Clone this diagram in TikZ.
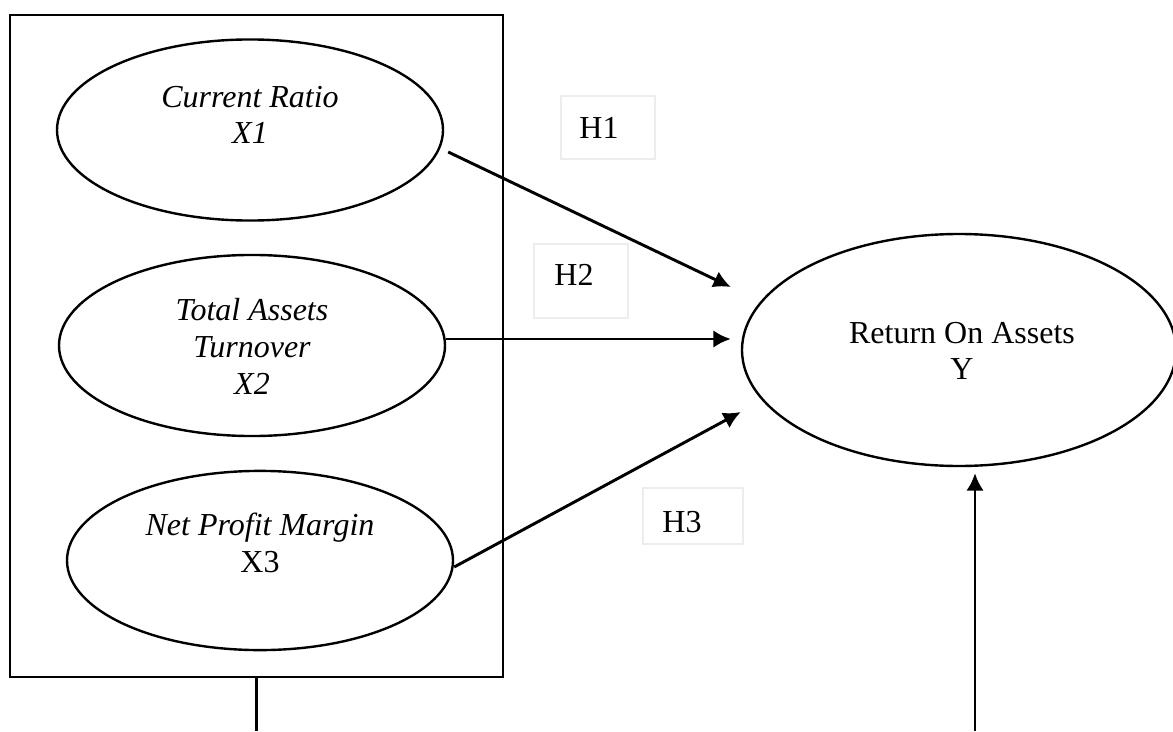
\documentclass[tikz,border=0pt]{standalone}
\usepackage{fontspec}
\setmainfont{Liberation Serif}
\usetikzlibrary{shapes.geometric,calc,arrows.meta}
\tikzset{%
	% Style of the variable ellipse
	Var/.style={ellipse,draw=black,line width=0.9pt,inner sep=0},
	% Style of the variable label
	VarName/.style={font=\fontsize{12pt}{13.8pt}\selectfont,align=center,black,inner sep=0},
	% Style of the hypothesis box
	HypBox/.style={rectangle,draw=black!7,line width=0.6pt,inner sep=0},
	% Style of the hypothesis label
	HypName/.style={font=\fontsize{12pt}{13.8pt}\selectfont,black,inner sep=0},
	% Style of the frame round the X variables
	Frame/.style={rectangle,draw=black,line width=0.8pt,inner sep=0},
	% Style of the arrows
	Connection/.style={line width=1.1pt,-{Latex[length=6.5pt,width=6.5pt]}},
	% Style of the plain line
	Line/.style={line width=0.8pt},
}

\begin{document}
\begin{tikzpicture}[x=0.375pt,y=-0.375pt] % STYLES
\useasboundingbox (0,0) rectangle (1173,731);

%~~~~~~~~~~~~~~~~~~~~~~~~~~~~~~~~~~~~~~~~~~~~~~~~~~
% Set Nodes
%~~~~~~~~~~~~~~~~~~~~~~~~~~~~~~~~~~~~~~~~~~~~~~~~~~
\node[Frame, minimum width=184.9pt, minimum height=248.25pt] (frame) at (256.5, 346) {};

\node[Var, minimum width=144.75pt, minimum height=67.9pt] (CR) at (250, 130) {};
\node[VarName] at ($ (CR) + (0, -15) $) {\itshape Current Ratio\\\itshape X1};

\node[Var, minimum width=144.75pt, minimum height=67.9pt] (TAT) at (252, 345.5) {};
\node[VarName] at ($ (TAT) + (0, 1) $) {\itshape Total Assets\\\itshape Turnover\\\itshape X2};

\node[Var, minimum width=144.75pt, minimum height=67.2pt] (NPM) at (260, 560.5) {};
\node[VarName] at ($ (NPM) + (0, -18) $) {\itshape Net Profit Margin\\X3};

\node[Var, minimum width=162.75pt, minimum height=87pt] (ROA) at (959, 350) {};
\node[VarName] at ($ (ROA) + (3, 1) $) {Return On Assets\\Y};

\node[HypBox, minimum width=35.25pt, minimum height=23.6pt] (H1) at (608, 127.5) {};
\node[HypName] at ($ (H1) + (-9, 0) $) {H1};

\node[HypBox, minimum width=35.25pt, minimum height=27.75pt] (H2) at (581, 281) {};
\node[HypName] at ($ (H2) + (-7, -6) $) {H2};

\node[HypBox, minimum width=37.5pt, minimum height=21pt] (H3) at (693, 516) {};
\node[HypName] at ($ (H3) + (-11, 6) $) {H3};

\coordinate (FrameEnd) at (256.5, 731);
\coordinate (ExtStart) at (975, 731);

%~~~~~~~~~~~~~~~~~~~~~~~~~~~~~~~~~~~~~~~~~~~~~~~~~~
% Set Branches
%~~~~~~~~~~~~~~~~~~~~~~~~~~~~~~~~~~~~~~~~~~~~~~~~~~
%Branch from X1 to Y
\draw [Connection] ($ (CR.east) + (4, 22) $) -- ($ (ROA.west) + (-10, -63) $);

%Branch from X2 to Y
\draw [Connection] ($ (TAT.east) + (0, -6.5) $) -- ($ (ROA.west) + (-10, -11) $);

%Branch from X3 to Y
\draw [Connection] ($ (NPM.east) + (0, 6.5) $) -- ($ (ROA.west) + (0, 62) $);

%Branch from below to Y
\draw [Connection] (ExtStart) -- ($ (ROA.south) + (16, 6) $);

%Line down from the frame
\draw [Line] (frame.south) -- (FrameEnd);

\end{tikzpicture}
\end{document}
